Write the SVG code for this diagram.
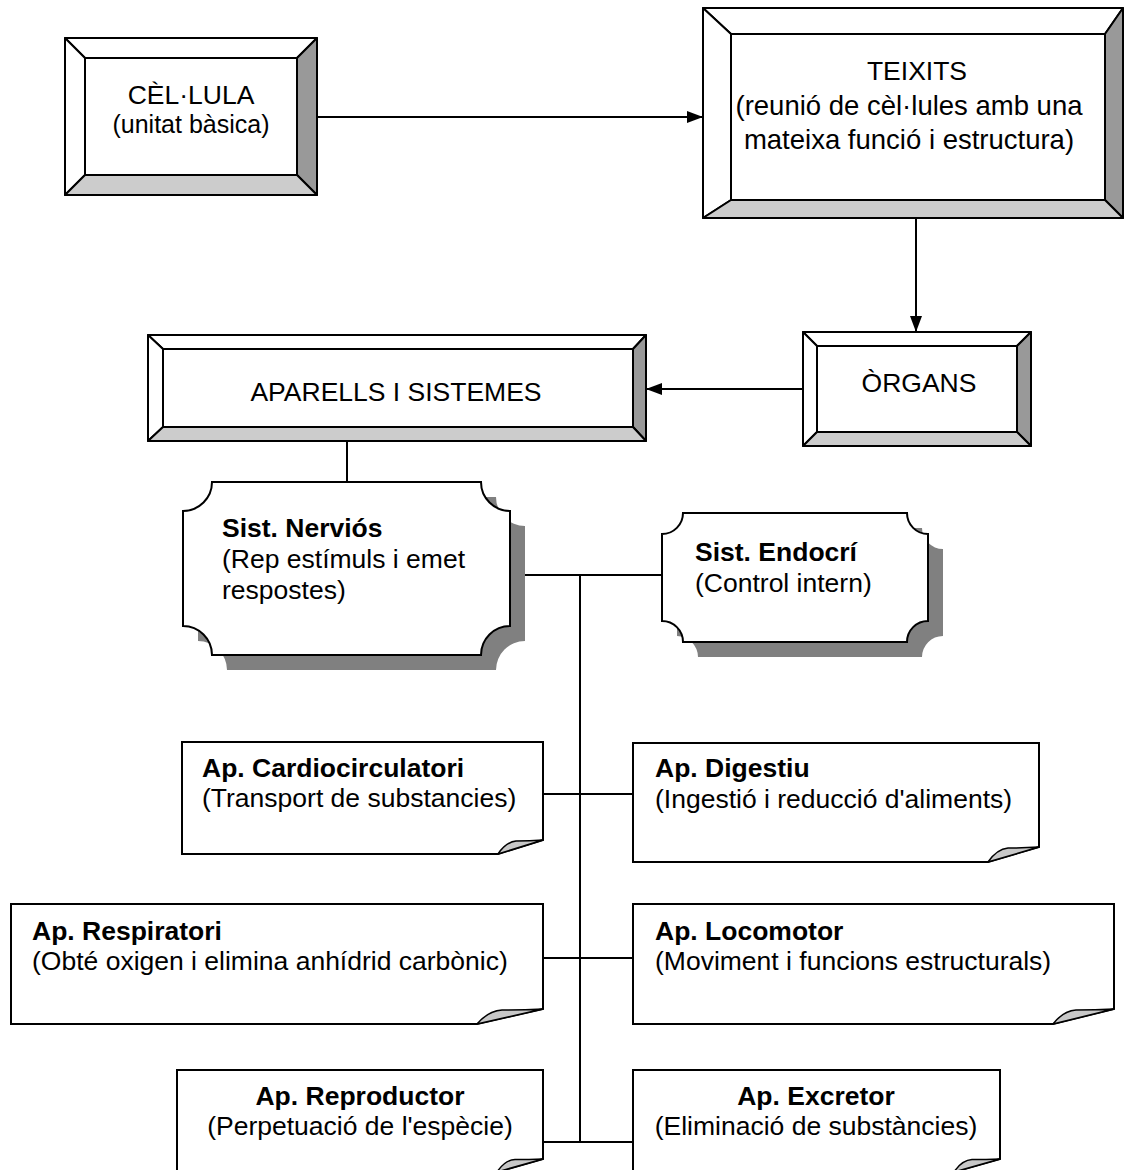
<svg xmlns="http://www.w3.org/2000/svg" width="1125" height="1170" viewBox="0 0 1125 1170">
<style>
  text { font-family: "Liberation Sans", Arial, sans-serif; fill: #000; }
  .t26 { font-size: 26.5px; }
  .b { font-weight: bold; }
  .mid { text-anchor: middle; }
  .face { fill: #fff; stroke: #000; stroke-width: 2; }
  .lt { fill: #fff; stroke: #000; stroke-width: 2; stroke-linejoin: round; }
  .rt { fill: #999; stroke: #000; stroke-width: 2; stroke-linejoin: round; }
  .bt { fill: #ccc; stroke: #000; stroke-width: 2; stroke-linejoin: round; }
  .shadow { fill: #808080; }
  .plaque { fill: #fff; stroke: #000; stroke-width: 2; }
  .note { fill: #fff; stroke: #000; stroke-width: 2; stroke-linejoin: miter; }
  .fold { fill: #c8c8c8; stroke: #000; stroke-width: 1.5; stroke-linejoin: round; }
  .conn { fill: none; stroke: #000; stroke-width: 2; }
</style>
<defs>
  <marker id="arrow" markerUnits="userSpaceOnUse" markerWidth="16" markerHeight="12" refX="16" refY="6" orient="auto">
    <path d="M0,0 L16,6 L0,12 Z" fill="#000"/>
  </marker>
</defs>

<g id="connectors">
  <line class="conn" x1="317" y1="117" x2="703" y2="117" marker-end="url(#arrow)"/>
  <line class="conn" x1="916" y1="218" x2="916" y2="332" marker-end="url(#arrow)"/>
  <line class="conn" x1="803" y1="389" x2="646" y2="389" marker-end="url(#arrow)"/>
  <line class="conn" x1="347" y1="441" x2="347" y2="482"/>
  <line class="conn" x1="510" y1="575" x2="662" y2="575"/>
  <line class="conn" x1="580" y1="575" x2="580" y2="1142"/>
  <line class="conn" x1="543" y1="794" x2="633" y2="794"/>
  <line class="conn" x1="543" y1="958" x2="633" y2="958"/>
  <line class="conn" x1="543" y1="1142" x2="633" y2="1142"/>
</g>

<g id="cellula">
  <polygon class="lt" points="65,38 317,38 297,58 85,58"/>
  <polygon class="lt" points="65,38 85,58 85,175 65,195"/>
  <polygon class="rt" points="317,38 317,195 297,175 297,58"/>
  <polygon class="bt" points="65,195 85,175 297,175 317,195"/>
  <rect class="face" x="85" y="58" width="212" height="117"/>
  <text class="t26 mid" x="191" y="104">CÈL·LULA</text>
  <text class="mid" x="191" y="133" font-size="25">(unitat bàsica)</text>
</g>

<g id="teixits">
  <polygon class="lt" points="703,8 1123,8 1105,34 731,34"/>
  <polygon class="lt" points="703,8 731,34 731,200 703,218"/>
  <polygon class="rt" points="1123,8 1123,218 1105,200 1105,34"/>
  <polygon class="bt" points="703,218 731,200 1105,200 1123,218"/>
  <rect class="face" x="731" y="34" width="374" height="166"/>
  <text class="t26 mid" x="917" y="80">TEIXITS</text>
  <text class="mid" x="909" y="115" font-size="27.5">(reunió de cèl·lules amb una</text>
  <text class="mid" x="909" y="149" font-size="27.5">mateixa funció i estructura)</text>
</g>

<g id="organs">
  <polygon class="lt" points="803,332 1031,332 1017,346 817,346"/>
  <polygon class="lt" points="803,332 817,346 817,432 803,446"/>
  <polygon class="rt" points="1031,332 1031,446 1017,432 1017,346"/>
  <polygon class="bt" points="803,446 817,432 1017,432 1031,446"/>
  <rect class="face" x="817" y="346" width="200" height="86"/>
  <text class="t26 mid" x="919" y="392">ÒRGANS</text>
</g>

<g id="aparells">
  <polygon class="lt" points="148,335 646,335 633,349 163,349"/>
  <polygon class="lt" points="148,335 163,349 163,427 148,441"/>
  <polygon class="rt" points="646,335 646,441 633,427 633,349"/>
  <polygon class="bt" points="148,441 163,427 633,427 646,441"/>
  <rect class="face" x="163" y="349" width="470" height="78"/>
  <text class="t26 mid" x="396" y="401">APARELLS I SISTEMES</text>
</g>

<g id="nervios">
  <path class="shadow" d="M227,497 H496 A29,29 0 0 0 525,526 V641 A29,29 0 0 0 496,670 H227 A29,29 0 0 0 198,641 V526 A29,29 0 0 0 227,497 Z"/>
  <path class="plaque" d="M212,482 H481 A29,29 0 0 0 510,511 V626 A29,29 0 0 0 481,655 H212 A29,29 0 0 0 183,626 V511 A29,29 0 0 0 212,482 Z"/>
  <text class="t26 b" x="222" y="537">Sist. Nerviós</text>
  <text class="t26" x="222" y="568">(Rep estímuls i emet</text>
  <text class="t26" x="222" y="599">respostes)</text>
</g>

<g id="endocri">
  <path class="shadow" d="M698,528 H922 A21,21 0 0 0 943,549 V636 A21,21 0 0 0 922,657 H698 A21,21 0 0 0 677,636 V549 A21,21 0 0 0 698,528 Z"/>
  <path class="plaque" d="M683,513 H907 A21,21 0 0 0 928,534 V621 A21,21 0 0 0 907,642 H683 A21,21 0 0 0 662,621 V534 A21,21 0 0 0 683,513 Z"/>
  <text class="t26 b" x="695" y="561">Sist. Endocrí</text>
  <text class="t26" x="695" y="592">(Control intern)</text>
</g>

<g id="cardio">
  <path class="note" d="M182,742 H543 V840 L498,854 H182 Z"/>
  <path class="fold" d="M498,854 Q506,842 516,841 Q530,841 543,840 Z"/>
  <text class="t26 b" x="202" y="777">Ap. Cardiocirculatori</text>
  <text class="t26" x="202" y="807">(Transport de substancies)</text>
</g>

<g id="digestiu">
  <path class="note" d="M633,743 H1039 V847 L988,862 H633 Z"/>
  <path class="fold" d="M988,862 Q997,849 1008,848 Q1023,848 1039,847 Z"/>
  <text class="t26 b" x="655" y="777">Ap. Digestiu</text>
  <text class="t26" x="655" y="808">(Ingestió i reducció d'aliments)</text>
</g>

<g id="respiratori">
  <path class="note" d="M11,904 H543 V1009 L477,1024 H11 Z"/>
  <path class="fold" d="M477,1024 Q488,1011 502,1010 Q522,1010 543,1009 Z"/>
  <text class="t26 b" x="32" y="940">Ap. Respiratori</text>
  <text class="t26" x="32" y="970">(Obté oxigen i elimina anhídrid carbònic)</text>
</g>

<g id="locomotor">
  <path class="note" d="M633,904 H1114 V1009 L1053,1024 H633 Z"/>
  <path class="fold" d="M1053,1024 Q1063,1011 1076,1010 Q1095,1010 1114,1009 Z"/>
  <text class="t26 b" x="655" y="940">Ap. Locomotor</text>
  <text class="t26" x="655" y="970">(Moviment i funcions estructurals)</text>
</g>

<g id="reproductor">
  <path class="note" d="M177,1070 H543 V1159 L497,1172 H177 Z"/>
  <path class="fold" d="M497,1172 Q505,1160 515,1159.5 Q529,1159.5 543,1159 Z"/>
  <text class="t26 b mid" x="360" y="1105">Ap. Reproductor</text>
  <text class="t26 mid" x="360" y="1135">(Perpetuació de l'espècie)</text>
</g>

<g id="excretor">
  <path class="note" d="M633,1070 H1000 V1159 L954,1172 H633 Z"/>
  <path class="fold" d="M954,1172 Q962,1160 972,1159.5 Q986,1159.5 1000,1159 Z"/>
  <text class="t26 b mid" x="816" y="1105">Ap. Excretor</text>
  <text class="t26 mid" x="816" y="1135">(Eliminació de substàncies)</text>
</g>
</svg>
